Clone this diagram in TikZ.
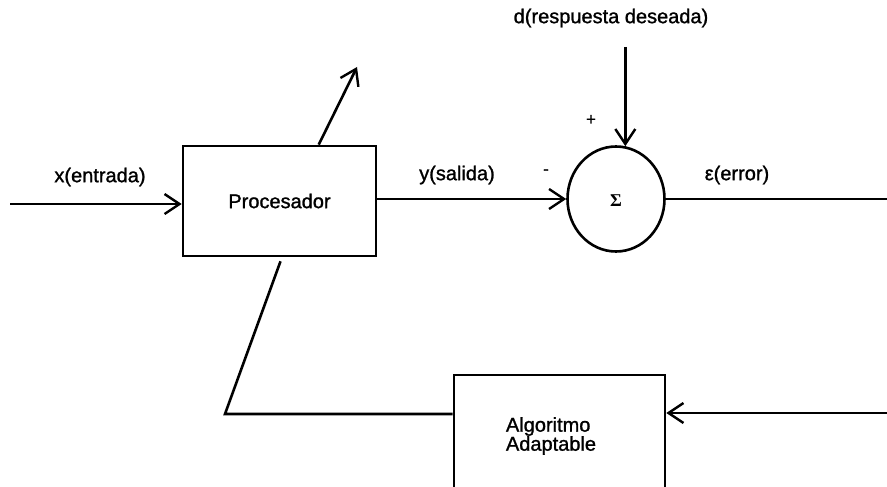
\documentclass[tikz,border=0pt]{standalone}
\usepackage{fontspec}
\setmainfont{Liberation Sans}
\newfontface\heavy{Liberation Sans}[FakeBold=1.2]
\newfontfamily\serifgr{Liberation Serif}
\usetikzlibrary{arrows.meta,shapes.geometric,calc}
\tikzset{
  wire/.style={line width=2.6pt},
  arr/.style={wire,-{Straight Barb[length=15pt,width=20pt,line width=2.4pt]}},
  blockbox/.style={draw,line width=2.6pt,rectangle,inner sep=0pt},
  lbl/.style={font=\heavy\fontsize{20}{22}\selectfont,inner sep=0pt},
  sign/.style={font=\heavy\fontsize{17}{18}\selectfont,inner sep=0pt}
}
\begin{document}
\begin{tikzpicture}[x=1pt,y=-1pt]
\useasboundingbox (0,0) rectangle (887,487);
% blocks
\node[blockbox,minimum width=193pt,minimum height=110pt,lbl] (proc) at (279.5,201) {Procesador};
\node[draw,ellipse,line width=2.6pt,minimum width=97pt,minimum height=105pt,inner sep=0pt] (sum) at (616,199) {};
\node[font=\serifgr\bfseries\fontsize{18}{20}\selectfont,inner sep=0pt] (sigma) at (616,201) {Σ};
\node[blockbox,minimum width=211pt,minimum height=140pt] (alg) at (559.5,445) {};
\node[lbl,align=left,font=\heavy\fontsize{20}{19}\selectfont] (algtext) at (551,436) {Algoritmo\\Adaptable};
% labels
\node[lbl] (xlab) at (100,177) {x(entrada)};
\node[lbl] (ylab) at (457,175) {y(salida)};
\node[lbl] (elab) at (737,175) {ε(error)};
\node[lbl] (dlab) at (611,18) {d(respuesta deseada)};
\node[sign] (plus) at (591,120) {+};
\node[sign] (minus) at (546,172) {-};
% coordinates
\coordinate (xin) at (10,204);
\coordinate (dstart) at (625,47);
\coordinate (eout) at (887,199);
\coordinate (fbr) at (887,413);
\coordinate (fbc) at (225,414);
\coordinate (uptip) at (357,67);
% connectors
\draw[arr] (xin) -- (xin -| proc.west);
\draw[arr] (proc.east |- sum.west) -- (sum.west);
\draw[arr] (sum.80 |- dstart) -- (sum.80);
\draw[wire] (sum.east) -- (eout);
\draw[arr] (fbr) -- (fbr -| alg.east);
\draw[wire] ($(proc.south)+(1,4)$) -- (fbc) -- (fbc -| alg.west);
\draw[arr] ($(proc.north west)+(137,0)$) -- (uptip);
\end{tikzpicture}
\end{document}
